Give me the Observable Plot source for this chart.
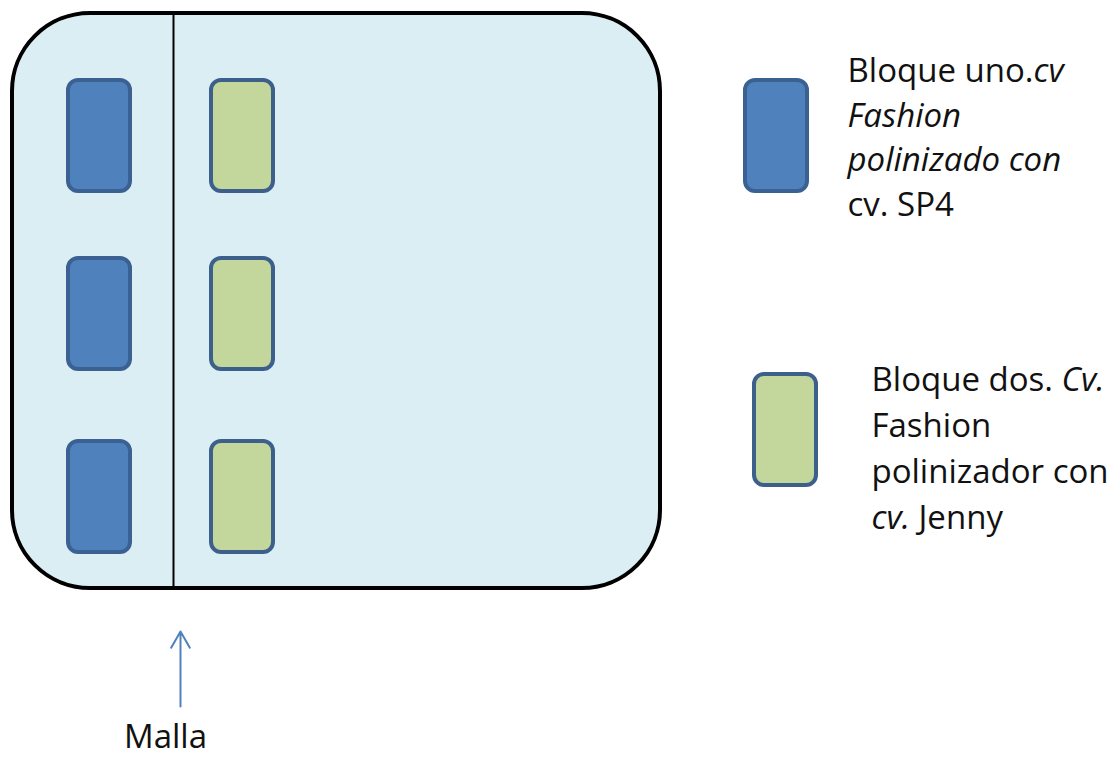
<!DOCTYPE html>
<html>
<head>
<meta charset="utf-8">
<script src="https://cdn.jsdelivr.net/npm/d3@7"></script>
<script src="https://cdn.jsdelivr.net/npm/@observablehq/plot@0.6"></script>
<style>
  html, body { margin: 0; padding: 0; background: #fff; }
  svg { display: block; }
</style>
</head>
<body>
<div id="chart"></div>
<script>
// ---- data ----
const bloques = ["uno", "dos"];
const filas = ["1", "2", "3"];
const leyendaUno = ["Bloque uno.*cv*", "*Fashion*", "*polinizado con*", "cv. SP4"];
const leyendaDos = ["Bloque dos. *Cv.*", "Fashion", "polinizador con", "*cv.* Jenny"];
const etiquetaMalla = ["Malla"];

// ---- styles / layout ----
const colores = {uno: {fill: "#4f81bd", stroke: "#3a6192"}, dos: {fill: "#c3d69b", stroke: "#3d5f8c"}};
const colX = {uno: 68, dos: 211};
const filaY = {"1": 80, "2": 258, "3": 441};
const bw = 62, bh = 111;

const celdas = [];
for (const b of bloques) for (const f of filas) celdas.push({bloque: b, fila: f});

const legendBoxes = [
  {bloque: "uno", x: 745, y: 80},
  {bloque: "dos", x: 754, y: 374}
];
const legendText = [
  ...leyendaUno.map((t, i) => ({t, x: 847, y: 71 + i * 44.5})),
  ...leyendaDos.map((t, i) => ({t, x: 871, y: 380 + i * 46}))
];

const fontFamily = "'Open Sans', sans-serif";

const plot = Plot.plot({
  width: 1117,
  height: 760,
  margin: 0,
  x: {domain: [0, 1117], range: [0, 1117], axis: null},
  y: {domain: [0, 760], range: [0, 760], axis: null},
  style: {background: "#fff", fontFamily},
  marks: [
    // field
    Plot.rect([{}], {x1: 12, x2: 660, y1: 13, y2: 588, rx: 78, fill: "#dbeef4", stroke: "#000", strokeWidth: 4}),
    // malla line
    Plot.ruleX([173], {y1: 13, y2: 588, stroke: "#000", strokeWidth: 2}),
    // blocks
    Plot.rect(celdas, {
      x1: d => colX[d.bloque], x2: d => colX[d.bloque] + bw,
      y1: d => filaY[d.fila], y2: d => filaY[d.fila] + bh,
      rx: 10,
      fill: d => colores[d.bloque].fill, stroke: d => colores[d.bloque].stroke, strokeWidth: 4
    }),
    // legend swatches
    Plot.rect(legendBoxes, {
      x1: "x", x2: d => d.x + bw, y1: "y", y2: d => d.y + 111, rx: 10,
      fill: d => colores[d.bloque].fill, stroke: d => colores[d.bloque].stroke, strokeWidth: 4
    }),
    // legend text
    Plot.text(legendText, {x: "x", y: "y", text: "t", textAnchor: "start", fontSize: 33, fill: "#111"}),
    // arrow
    Plot.arrow([{}], {x1: 180, y1: 706, x2: 180, y2: 631, stroke: "#4f81bd", strokeWidth: 2, headLength: 14, bend: 0}),
    Plot.text(etiquetaMalla, {x: 165, y: 737, text: d => d, fontSize: 33, fill: "#111"})
  ]
});

// mixed italic segments: *...* -> italic tspan
d3.select(plot).selectAll("text").each(function() {
  const txt = this.textContent;
  if (!txt.includes("*")) return;
  const el = d3.select(this);
  el.text(null);
  txt.split("*").forEach((seg, i) => {
    if (!seg) return;
    const ts = el.append("tspan").text(seg);
    if (i % 2 === 1) ts.attr("font-style", "italic");
  });
});

document.getElementById("chart").appendChild(plot);
</script>
</body>
</html>
